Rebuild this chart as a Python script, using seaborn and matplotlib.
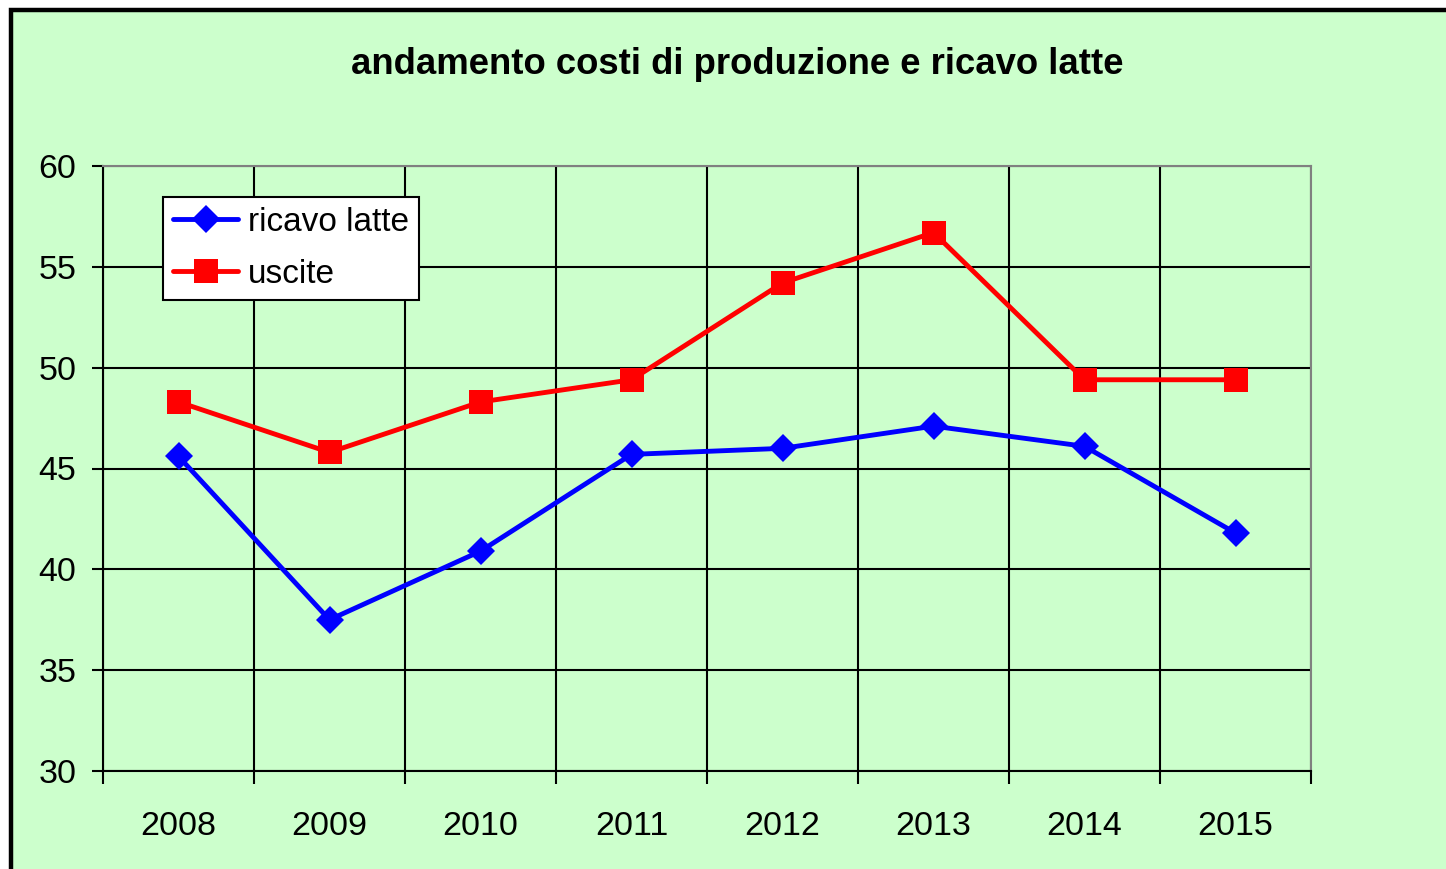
import numpy as np
import matplotlib.pyplot as plt
import seaborn as sns
from matplotlib.patches import Rectangle

# dati
anni = ['2008', '2009', '2010', '2011', '2012', '2013', '2014', '2015']
ricavo_latte = [45.6, 37.5, 40.9, 45.7, 46.0, 47.1, 46.1, 41.8]
uscite = [48.3, 45.8, 48.3, 49.4, 54.2, 56.7, 49.4, 49.4]
y_ticks = [30, 35, 40, 45, 50, 55, 60]

verde = '#CCFFCC'

sns.set_theme(style='ticks')
plt.rcParams['font.family'] = ['Liberation Sans', 'DejaVu Sans']
plt.rcParams['text.color'] = 'black'

W, H = 1446, 869
fig = plt.figure(figsize=(W / 100, H / 100), dpi=100, facecolor='white')

# cornice verde con bordo nero (tagliata a destra e in basso)
fig.patches.append(Rectangle((10.5 / W, -0.1), 2, 1.1 - 10.5 / H,
                             transform=fig.transFigure, facecolor=verde,
                             edgecolor='black', lw=3.2, zorder=-10))

ax = fig.add_axes([103 / W, 1 - 771 / H, 1208 / W, 605 / H])
ax.set_facecolor(verde)

sns.lineplot(x=anni, y=ricavo_latte, ax=ax, color='#0000FF', marker='D',
             markersize=14, markeredgewidth=0, linewidth=3.5,
             label='ricavo latte', zorder=3)
sns.lineplot(x=anni, y=uscite, ax=ax, color='#FF0000', marker='s',
             markersize=17.5, markeredgewidth=0, linewidth=3.5,
             label='uscite', zorder=3)

# assi
ax.set_xlim(-0.5, 7.5)
ax.set_ylim(30, 60)
ax.set_yticks(y_ticks)
ax.set_xticks(np.arange(-0.5, 8, 1))
ax.set_xticklabels([])
ax.set_xticks(range(len(anni)), minor=True)
ax.set_xticklabels(anni, minor=True)
ax.tick_params(axis='x', which='major', length=9, width=1.5, color='black')
ax.tick_params(axis='x', which='minor', length=0, pad=28.5, labelsize=24.5, labelcolor='black')
ax.tick_params(axis='y', length=8, width=1.5, color='black', pad=11, labelsize=24.5, labelcolor='black')
ax.grid(True, which='major', color='black', lw=1.5)
ax.set_xlabel('')
ax.set_ylabel('')

for s in ['left', 'bottom']:
    ax.spines[s].set_color('black')
    ax.spines[s].set_linewidth(1.5)
for s in ['top', 'right']:
    ax.spines[s].set_visible(True)
    ax.spines[s].set_color('#808080')
    ax.spines[s].set_linewidth(1.5)

leg = ax.legend(loc='upper left', bbox_to_anchor=(60 / 1208, 1 - 31 / 605),
                borderaxespad=0, frameon=True, fancybox=False, framealpha=1,
                edgecolor='black', facecolor='white', fontsize=24,
                handlelength=1.95, handletextpad=0.3, labelspacing=0.62,
                borderpad=0.3)
leg.get_frame().set_linewidth(1.5)
for t in leg.get_texts():
    t.set_color('black')

fig.text(737.5 / W, 1 - 65 / H, 'andamento costi di produzione e ricavo latte',
         ha='center', va='center', fontsize=26.3, fontweight='bold', color='black')

fig.savefig('out.png', dpi=100, facecolor=fig.get_facecolor())
plt.close()
